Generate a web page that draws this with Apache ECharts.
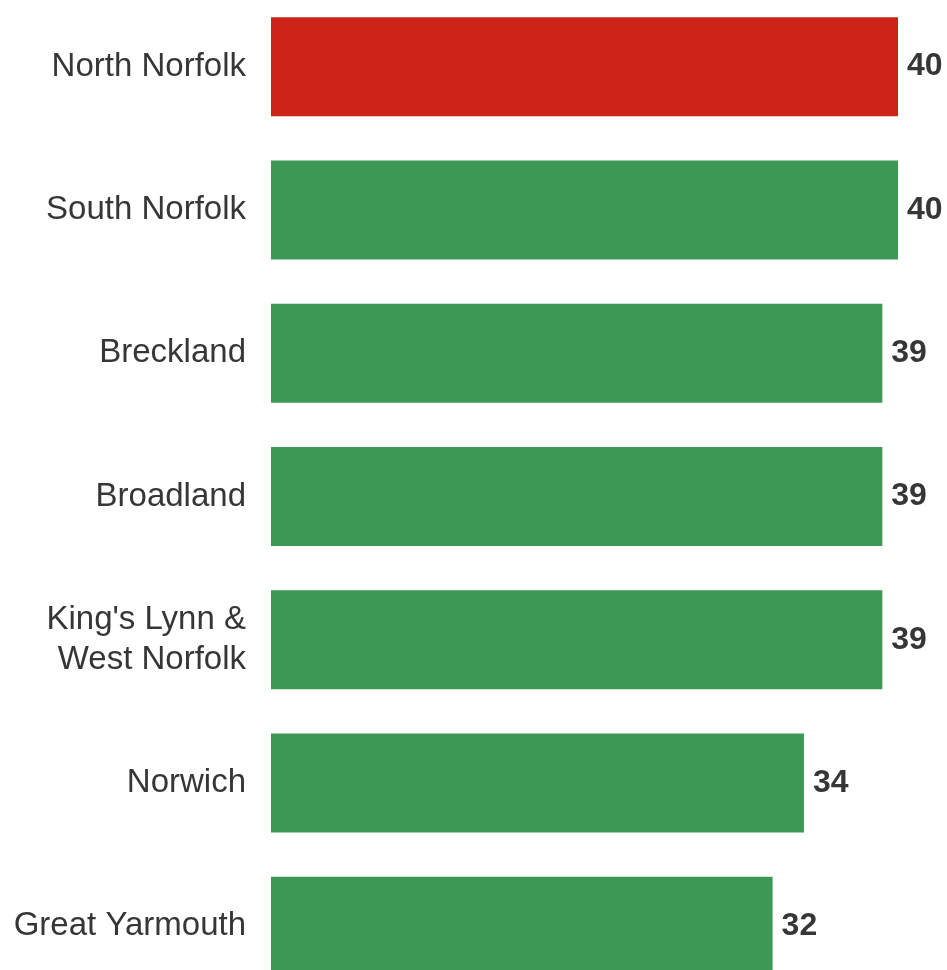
<!DOCTYPE html>
<html>
<head>
<meta charset="utf-8">
<script src="https://cdn.jsdelivr.net/npm/echarts@6/dist/echarts.min.js"></script>
<style>
  html, body { margin: 0; padding: 0; background: #ffffff; }
  #chart { width: 947px; height: 970px; }
</style>
</head>
<body>
<div id="chart"></div>
<script>
// District names, top to bottom
const districts = [
  'North Norfolk',
  'South Norfolk',
  'Breckland',
  'Broadland',
  "King's Lynn &\nWest Norfolk",
  'Norwich',
  'Great Yarmouth'
];
// Value per district
const scores = [40, 40, 39, 39, 39, 34, 32];
// District drawn in the accent colour
const highlighted = 'North Norfolk';

const RED = '#cc2418';
const GREEN = '#3d9856';
const TEXT = '#363636';

const chart = echarts.init(document.getElementById('chart'), null, { renderer: 'canvas' });

chart.setOption({
  animation: false,
  grid: {
    left: 271,
    right: 49,
    top: -5,
    height: 1003,
    outerBoundsMode: 'none',
    containLabel: false
  },
  xAxis: {
    type: 'value',
    min: 0,
    max: 40,
    show: false
  },
  yAxis: {
    type: 'category',
    data: districts,
    inverse: true,
    axisLine: { show: false },
    axisTick: { show: false },
    splitLine: { show: false },
    axisLabel: {
      margin: 25,
      color: TEXT,
      fontFamily: 'Liberation Sans, Arial, sans-serif',
      fontSize: 33,
      lineHeight: 40,
      align: 'right'
    }
  },
  series: [{
    type: 'bar',
    data: scores.map((v, i) => ({
      value: v,
      itemStyle: { color: districts[i] === highlighted ? RED : GREEN }
    })),
    barWidth: 99,
    label: {
      show: true,
      position: 'right',
      distance: 9,
      color: TEXT,
      fontFamily: 'Liberation Sans, Arial, sans-serif',
      fontWeight: 'bold',
      fontSize: 32
    }
  }]
});
</script>
</body>
</html>
